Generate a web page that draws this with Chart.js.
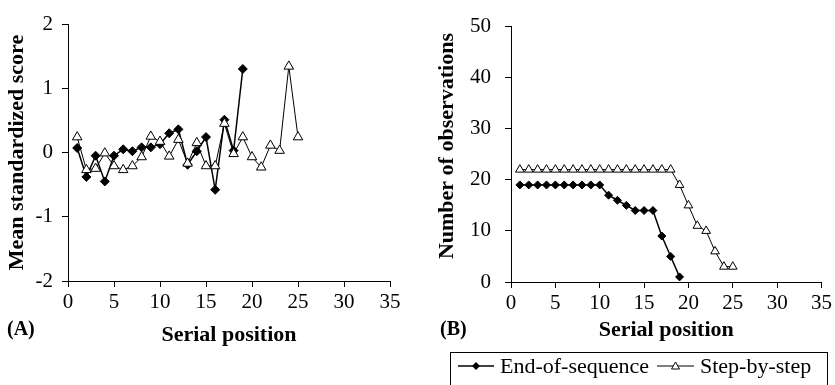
<!DOCTYPE html>
<html>
<head>
<meta charset="utf-8">
<script src="https://cdn.jsdelivr.net/npm/chart.js@4/dist/chart.umd.min.js"></script>
<style>
  html, body { margin:0; padding:0; background:#fff; width:835px; height:385px; overflow:hidden; }
  body { position:relative; font-family:'Liberation Serif','Times New Roman',serif; color:#000; }
  #ca { position:absolute; left:0; top:0; }
  #cb { position:absolute; left:430px; top:0; }
  .panel { position:absolute; font-weight:bold; font-size:20px; line-height:24px; }
  #legend { position:absolute; left:450px; top:352px; width:378px; height:45px; border:1px solid #000; box-sizing:border-box; }
  #legend span { position:absolute; top:0; font-size:22px; line-height:26px; white-space:nowrap; }
  #legend svg { position:absolute; top:6px; }
</style>
</head>
<body>
<canvas id="ca" width="430" height="385"></canvas>
<canvas id="cb" width="405" height="385"></canvas>
<div class="panel" style="left:7px; top:316px;">(A)</div>
<div class="panel" style="left:440px; top:316px;">(B)</div>
<div id="legend">
  <svg width="36" height="14" style="left:7px;"><line x1="0" y1="7" x2="36" y2="7" stroke="#000" stroke-width="1.5"/><polygon points="18,3 22,7 18,11 14,7" fill="#000"/></svg>
  <span style="left:49px;">End-of-sequence</span>
  <svg width="37" height="14" style="left:206px;"><line x1="0" y1="7" x2="37" y2="7" stroke="#000" stroke-width="1"/><polygon points="18.5,3 22.5,10 14.5,10" fill="#fff" stroke="#000" stroke-width="1"/></svg>
  <span style="left:249px;">Step-by-step</span>
</div>
<script>
// ---- data ----
const serialPositions = [1,2,3,4,5,6,7,8,9,10,11,12,13,14,15,16,17,18,19,20,21,22,23,24,25];
const seriesNames = ['End-of-sequence', 'Step-by-step'];
// Panel A: mean standardized score
const meanScoreEnd  = [0.07,-0.38,-0.05,-0.45,-0.05,0.05,0.02,0.08,0.08,0.13,0.30,0.36,-0.19,0.02,0.24,-0.58,0.51,0.03,1.30];
const meanScoreStep = [0.24,-0.27,-0.25,-0.01,-0.21,-0.27,-0.21,-0.07,0.25,0.17,-0.06,0.20,-0.17,0.15,-0.21,-0.21,0.45,-0.02,0.24,-0.07,-0.23,0.11,0.03,1.34,0.24];
// Panel B: number of observations
const obsCountEnd  = [19,19,19,19,19,19,19,19,19,19,17,16,15,14,14,14,9,5,1];
const obsCountStep = [22,22,22,22,22,22,22,22,22,22,22,22,22,22,22,22,22,22,19,15,11,10,6,3,3];
// tick labels
const xTickValues = [0,5,10,15,20,25,30,35];
const yTickValuesA = [-2,-1,0,1,2];
const yTickValuesB = [0,10,20,30,40,50];

const FONT = "'Liberation Serif','Times New Roman',serif";
const toPoints = vals => vals.map((v, i) => ({ x: serialPositions[i], y: v }));

function xAxis(height, titlePadBottom) {
  return {
    type: 'linear', min: xTickValues[0], max: xTickValues[xTickValues.length - 1],
    border: { color: '#000', width: 1 },
    grid: { drawOnChartArea: false, drawTicks: true, tickLength: 6, color: '#000', lineWidth: 1 },
    afterBuildTicks: s => { s.ticks = xTickValues.map(v => ({ value: v })); },
    ticks: { color: '#000', font: { family: FONT, size: 21 }, padding: 3, maxRotation: 0, autoSkip: false },
    title: { display: true, text: 'Serial position', color: '#000',
      font: { family: FONT, size: 22, weight: 'bold' }, padding: { top: 0, bottom: titlePadBottom } },
    afterFit: s => { s.height = height; }
  };
}
function yAxis(width, tickVals, titleText, tickPad) {
  return {
    type: 'linear', min: tickVals[0], max: tickVals[tickVals.length - 1],
    border: { color: '#000', width: 1 },
    grid: { drawOnChartArea: false, drawTicks: true, tickLength: 6, color: '#000', lineWidth: 1 },
    afterBuildTicks: s => { s.ticks = tickVals.map(v => ({ value: v })); },
    ticks: { color: '#000', font: { family: FONT, size: 21 }, padding: tickPad, autoSkip: false },
    title: { display: true, text: titleText, color: '#000',
      font: { family: FONT, size: 22, weight: 'bold' }, padding: { top: 4, bottom: 0 } },
    afterFit: s => { s.width = width; }
  };
}
function datasets(endVals, stepVals, dRad, tRad) {
  return [
    { label: seriesNames[0], data: toPoints(endVals), borderColor: '#000', borderWidth: 1.5,
      pointStyle: 'rectRot', pointRadius: dRad, pointBackgroundColor: '#000', pointBorderColor: '#000',
      pointBorderWidth: 1, tension: 0, order: 1 },
    { label: seriesNames[1], data: toPoints(stepVals), borderColor: '#000', borderWidth: 1,
      pointStyle: 'triangle', pointRadius: tRad, pointBackgroundColor: '#fff', pointBorderColor: '#000',
      pointBorderWidth: 1, tension: 0, order: 0 }
  ];
}
const common = {
  responsive: false, animation: false, devicePixelRatio: 1,
  plugins: { legend: { display: false }, tooltip: { enabled: false } },
  elements: { line: { fill: false } }
};

new Chart(document.getElementById('ca'), {
  type: 'line',
  data: { datasets: datasets(meanScoreEnd, meanScoreStep, 4.5, 5.5) },
  options: Object.assign({}, common, {
    layout: { padding: { left: 0, top: 24, right: 40, bottom: 0 } },
    scales: { x: xAxis(104, 36), y: yAxis(68, yTickValuesA, 'Mean standardized score', 9) }
  })
});
new Chart(document.getElementById('cb'), {
  type: 'line',
  data: { datasets: datasets(obsCountEnd, obsCountStep, 4, 5) },
  options: Object.assign({}, common, {
    layout: { padding: { left: 0, top: 17, right: 13, bottom: 0 } },
    scales: { x: xAxis(103, 41), y: yAxis(81, yTickValuesB, '   Number of observations', 14) }
  })
});
</script>
</body>
</html>
